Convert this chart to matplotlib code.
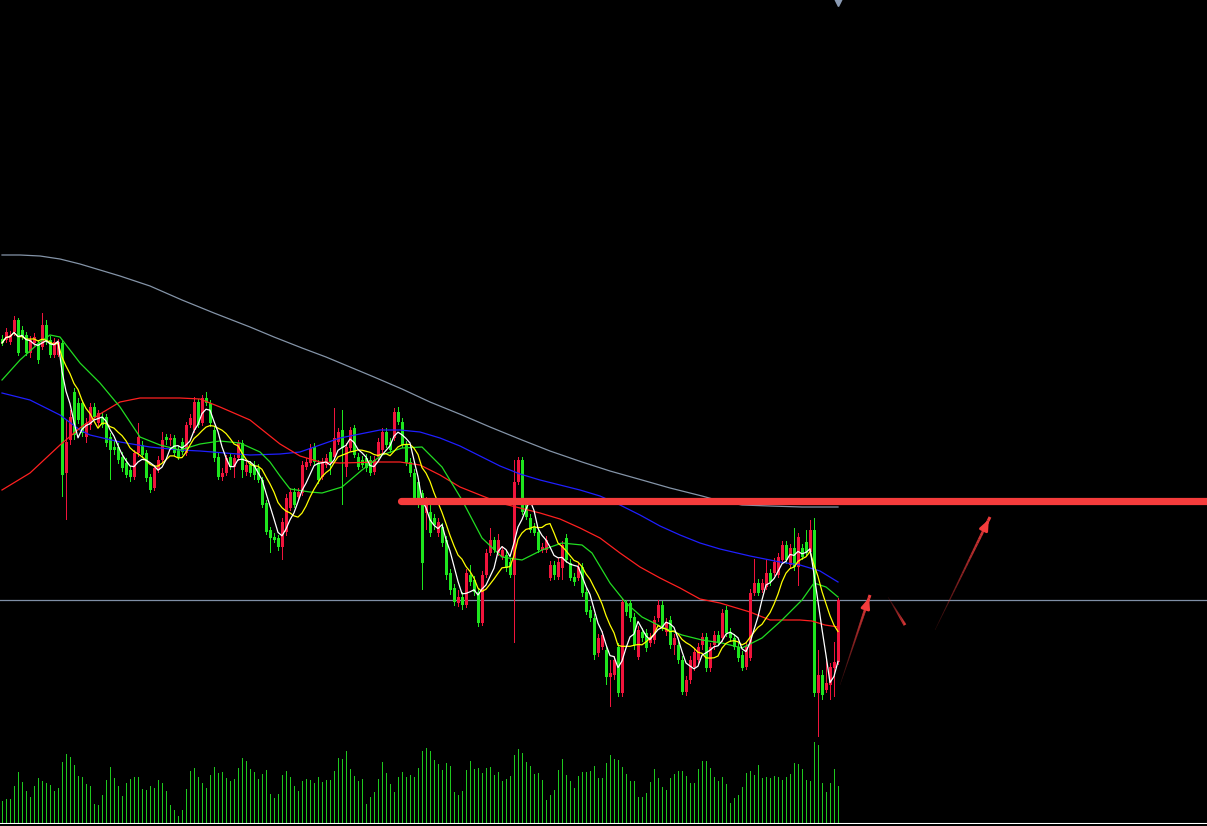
import numpy as np
import pandas as pd
import matplotlib
matplotlib.use('Agg')
import matplotlib.pyplot as plt
from matplotlib.collections import LineCollection

# daily bars (price units)
opens = [6.61, 6.60, 6.58, 6.68, 6.80, 6.70, 6.65, 6.47, 6.57, 6.57,
         6.53, 6.75, 6.60, 6.45, 6.45, 6.57, 5.27, 5.60, 6.08, 5.97,
         5.97, 5.63, 5.75, 5.93, 5.77, 5.83, 5.83, 5.63, 5.53, 5.53,
         5.43, 5.37, 5.30, 5.23, 5.47, 5.55, 5.47, 5.23, 5.12, 5.30,
         5.40, 5.63, 5.60, 5.62, 5.50, 5.58, 5.47, 5.75, 5.70, 5.98,
         5.77, 6.02, 5.97, 5.70, 5.43, 5.23, 5.27, 5.43, 5.33, 5.42,
         5.57, 5.28, 5.35, 5.35, 5.32, 5.20, 4.97, 4.70, 4.63, 4.62,
         4.53, 4.68, 4.92, 5.08, 5.03, 5.07, 5.33, 5.37, 5.53, 5.37,
         5.23, 5.35, 5.48, 5.43, 5.58, 5.70, 5.33, 5.52, 5.72, 5.43,
         5.40, 5.42, 5.40, 5.28, 5.43, 5.50, 5.68, 5.58, 5.62, 5.88,
         5.78, 5.55, 5.38, 5.27, 5.18, 5.07, 4.87, 4.88, 4.82, 4.67,
         4.73, 4.60, 4.27, 4.12, 3.97, 4.03, 3.95, 4.25, 4.20, 4.08,
         3.77, 4.25, 4.47, 4.60, 4.47, 4.43, 4.45, 4.38, 4.25, 5.18,
         5.40, 4.97, 4.82, 4.73, 4.68, 4.50, 4.50, 4.22, 4.35, 4.23,
         4.32, 4.62, 4.37, 4.23, 4.22, 4.33, 4.08, 3.90, 3.82, 3.47,
         3.53, 3.50, 3.23, 3.25, 3.53, 3.07, 3.97, 3.97, 3.83, 3.43,
         3.68, 3.67, 3.57, 3.60, 3.82, 3.95, 3.68, 3.80, 3.55, 3.55,
         3.40, 3.08, 3.20, 3.33, 3.40, 3.55, 3.63, 3.32, 3.55, 3.65,
         3.62, 3.90, 3.68, 3.62, 3.53, 3.45, 3.33, 3.42, 4.07, 4.17,
         4.10, 4.13, 4.27, 4.27, 4.25, 4.40, 4.55, 4.35, 4.52, 4.33,
         4.52, 4.58, 4.48, 4.70, 3.07, 3.25, 3.10, 3.15, 3.32, 3.38]
closes = [6.57, 6.68, 6.65, 6.80, 6.47, 6.63, 6.47, 6.60, 6.63, 6.40,
          6.75, 6.58, 6.45, 6.58, 6.58, 5.25, 5.58, 5.83, 5.65, 5.80,
          5.67, 5.77, 5.93, 5.83, 5.87, 5.75, 5.57, 5.50, 5.50, 5.40,
          5.32, 5.25, 5.23, 5.47, 5.63, 5.45, 5.22, 5.10, 5.32, 5.40,
          5.60, 5.60, 5.62, 5.47, 5.43, 5.48, 5.75, 5.82, 5.98, 5.75,
          6.02, 5.97, 5.77, 5.42, 5.23, 5.27, 5.42, 5.33, 5.42, 5.57,
          5.30, 5.35, 5.27, 5.25, 5.20, 4.95, 4.68, 4.62, 4.60, 4.53,
          4.78, 5.02, 5.08, 4.95, 5.08, 5.35, 5.38, 5.52, 5.38, 5.20,
          5.38, 5.42, 5.38, 5.62, 5.68, 5.52, 5.53, 5.70, 5.45, 5.33,
          5.35, 5.32, 5.27, 5.40, 5.58, 5.68, 5.55, 5.50, 5.88, 5.78,
          5.55, 5.37, 5.27, 5.02, 4.95, 4.37, 5.00, 4.67, 4.75, 4.78,
          4.57, 4.25, 4.10, 3.98, 4.03, 3.95, 4.27, 4.18, 4.08, 3.77,
          4.25, 4.47, 4.60, 4.50, 4.60, 4.50, 4.32, 4.25, 5.18, 5.40,
          4.88, 4.83, 4.70, 4.67, 4.50, 4.53, 4.60, 4.35, 4.25, 4.38,
          4.55, 4.40, 4.22, 4.18, 4.33, 4.07, 3.88, 3.82, 3.45, 3.62,
          3.65, 3.23, 3.27, 3.40, 3.07, 3.98, 3.88, 3.82, 3.55, 3.70,
          3.62, 3.52, 3.63, 3.80, 3.95, 3.73, 3.78, 3.55, 3.62, 3.40,
          3.08, 3.20, 3.40, 3.48, 3.53, 3.63, 3.32, 3.53, 3.65, 3.58,
          3.87, 3.67, 3.62, 3.53, 3.42, 3.32, 3.53, 4.07, 4.17, 4.07,
          4.17, 4.27, 4.18, 4.38, 4.43, 4.55, 4.40, 4.52, 4.33, 4.63,
          4.43, 4.47, 4.70, 3.07, 3.25, 3.05, 3.17, 3.33, 3.38, 4.00]
highs = [6.65, 6.72, 6.69, 6.84, 6.82, 6.74, 6.68, 6.64, 6.67, 6.60,
         6.87, 6.80, 6.64, 6.62, 6.61, 6.60, 5.80, 5.90, 6.12, 6.02,
         6.00, 5.82, 5.97, 5.97, 5.90, 5.87, 5.86, 5.67, 5.60, 5.57,
         5.48, 5.42, 5.34, 5.50, 5.77, 5.59, 5.50, 5.26, 5.35, 5.44,
         5.68, 5.66, 5.66, 5.65, 5.54, 5.62, 5.78, 5.86, 6.03, 6.01,
         6.05, 6.08, 6.00, 5.74, 5.47, 5.32, 5.45, 5.47, 5.45, 5.60,
         5.60, 5.39, 5.39, 5.39, 5.36, 5.23, 5.00, 4.73, 4.67, 4.65,
         4.82, 5.06, 5.12, 5.12, 5.12, 5.39, 5.42, 5.56, 5.57, 5.40,
         5.42, 5.46, 5.52, 5.92, 5.72, 5.90, 5.57, 5.73, 5.75, 5.47,
         5.44, 5.46, 5.44, 5.44, 5.62, 5.72, 5.72, 5.62, 5.92, 5.93,
         5.82, 5.59, 5.42, 5.31, 5.22, 5.10, 5.03, 4.95, 4.86, 4.82,
         4.77, 4.64, 4.31, 4.16, 4.10, 4.08, 4.31, 4.35, 4.24, 4.12,
         4.29, 4.51, 4.72, 4.63, 4.66, 4.54, 4.49, 4.42, 5.40, 5.43,
         5.43, 5.01, 4.86, 4.77, 4.72, 4.57, 4.64, 4.39, 4.39, 4.42,
         4.59, 4.66, 4.41, 4.27, 4.37, 4.37, 4.12, 3.94, 3.86, 3.66,
         3.69, 3.54, 3.40, 3.44, 3.57, 4.02, 4.00, 4.00, 3.87, 3.74,
         3.72, 3.71, 3.67, 3.84, 4.00, 3.99, 3.82, 3.84, 3.66, 3.59,
         3.44, 3.24, 3.44, 3.52, 3.57, 3.67, 3.67, 3.57, 3.69, 3.69,
         3.91, 3.94, 3.72, 3.66, 3.57, 3.49, 3.57, 4.11, 4.41, 4.21,
         4.21, 4.40, 4.31, 4.42, 4.47, 4.59, 4.59, 4.56, 4.72, 4.67,
         4.56, 4.70, 4.80, 4.82, 3.50, 3.30, 3.40, 3.37, 3.58, 4.02]
lows = [6.54, 6.57, 6.55, 6.64, 6.44, 6.60, 6.44, 6.42, 6.54, 6.36,
        6.50, 6.55, 6.42, 6.42, 6.43, 5.03, 4.80, 5.55, 5.60, 5.76,
        5.63, 5.57, 5.70, 5.80, 5.73, 5.72, 5.53, 5.20, 5.45, 5.36,
        5.28, 5.22, 5.18, 5.20, 5.43, 5.42, 5.18, 5.07, 5.09, 5.27,
        5.37, 5.55, 5.54, 5.44, 5.40, 5.45, 5.44, 5.72, 5.67, 5.72,
        5.74, 5.94, 5.73, 5.38, 5.20, 5.19, 5.24, 5.30, 5.22, 5.39,
        5.22, 5.24, 5.23, 5.20, 5.17, 4.92, 4.65, 4.47, 4.57, 4.49,
        4.40, 4.64, 4.89, 4.92, 5.00, 5.04, 5.30, 5.34, 5.35, 5.16,
        5.20, 5.32, 5.25, 5.40, 5.55, 4.95, 5.23, 5.49, 5.42, 5.30,
        5.32, 5.28, 5.24, 5.25, 5.40, 5.47, 5.52, 5.47, 5.59, 5.75,
        5.52, 5.34, 5.23, 4.98, 4.92, 4.10, 4.70, 4.63, 4.70, 4.63,
        4.53, 4.20, 4.05, 3.94, 3.93, 3.90, 3.92, 4.14, 4.04, 3.73,
        3.74, 4.22, 4.44, 4.47, 4.44, 4.40, 4.28, 4.22, 3.57, 5.15,
        4.85, 4.80, 4.67, 4.64, 4.47, 4.47, 4.47, 4.19, 4.20, 4.20,
        4.20, 4.37, 4.19, 4.14, 4.19, 4.03, 3.85, 3.78, 3.40, 3.43,
        3.50, 3.15, 2.93, 3.20, 3.03, 3.03, 3.84, 3.78, 3.50, 3.40,
        3.58, 3.48, 3.53, 3.56, 3.78, 3.69, 3.64, 3.51, 3.45, 3.36,
        3.05, 3.04, 3.16, 3.29, 3.36, 3.50, 3.28, 3.28, 3.50, 3.54,
        3.58, 3.63, 3.58, 3.50, 3.38, 3.29, 3.30, 3.39, 4.04, 4.04,
        4.07, 4.10, 4.14, 4.24, 4.22, 4.37, 4.36, 4.32, 4.29, 4.14,
        4.40, 4.44, 4.45, 3.03, 2.63, 3.00, 3.07, 3.00, 3.03, 3.35]
volume = [68, 76, 76, 115, 157, 127, 100, 82, 115, 139,
          130, 124, 118, 100, 109, 187, 211, 202, 178, 145,
          142, 121, 115, 61, 58, 88, 133, 172, 139, 115,
          85, 124, 136, 142, 142, 106, 103, 115, 109, 133,
          124, 100, 58, 43, 25, 43, 106, 160, 169, 142,
          124, 109, 148, 172, 154, 157, 139, 130, 136, 169,
          199, 190, 166, 157, 136, 151, 163, 91, 79, 91,
          148, 160, 142, 115, 100, 130, 136, 133, 124, 142,
          127, 133, 133, 160, 199, 196, 220, 166, 145, 130,
          136, 61, 82, 97, 136, 187, 154, 121, 97, 142,
          157, 142, 148, 142, 169,
          220, 229, 220, 193, 181, 163, 184, 175, 97, 88,
          100, 163, 190, 166, 169, 154, 169, 172, 148, 157,
          130, 136, 145, 208, 226, 214, 187, 175, 151, 154,
          133, 73, 88, 103, 163, 196, 148, 130, 109, 145,
          157, 157, 160, 175, 139, 139, 184, 208, 196, 193,
          172, 151, 130, 130, 82, 82, 94, 127, 166, 139,
          112, 103, 139, 151, 160, 160, 145, 124, 124, 166,
          190, 190, 169, 142, 130, 142, 121, 64, 79, 88,
          112, 154, 160, 148, 178, 139, 142, 139, 145, 142,
          133, 142, 151, 184, 181, 166, 133, 130, 247, 238,
          124, 97, 124, 166, 115]

# longer moving averages at bar positions
ma20_idx = [0, 4.5, 9.5, 12, 14.5, 17, 19.5, 24.5, 29.5, 34.5,
            39.5, 44.5, 49.5, 54.5, 59.5, 64.5, 67, 69.5, 72, 77,
            80, 85, 90, 95, 100, 105, 110, 115, 120, 125,
            130, 135, 140, 145, 147.5, 152, 156, 160, 165, 170,
            175, 180, 185, 190, 195, 200, 203, 206, 209]
ma20_val = [6.20, 6.40, 6.58, 6.65, 6.63, 6.50, 6.37, 6.17, 5.93, 5.63,
            5.55, 5.50, 5.56, 5.59, 5.57, 5.48, 5.38, 5.24, 5.11, 5.08,
            5.07, 5.13, 5.30, 5.45, 5.52, 5.53, 5.33, 5.00, 4.62, 4.43,
            4.40, 4.50, 4.57, 4.55, 4.47, 4.17, 3.97, 3.83, 3.73, 3.65,
            3.60, 3.57, 3.52, 3.62, 3.80, 4.00, 4.17, 4.13, 4.03]
ma60_idx = [0, 7, 14.5, 19.5, 24.5, 29.5, 34.5, 44.5, 49.5, 54.5,
            62, 64.5, 69.5, 74.5, 79.5, 84.5, 94.5, 99.5, 104.5, 109.5,
            114.5, 119.5, 124.5, 129.5, 134.5, 139.5, 144.5, 149.5, 154.5, 159.5,
            164.5, 169.5, 174.5, 179.5, 187, 192, 199.5, 202.5, 205.75, 209]
ma60_val = [5.10, 5.27, 5.55, 5.72, 5.86, 5.98, 6.02, 6.02, 6.01, 5.93,
            5.80, 5.72, 5.56, 5.44, 5.38, 5.37, 5.38, 5.38, 5.35, 5.25,
            5.13, 5.05, 4.97, 4.92, 4.87, 4.81, 4.72, 4.62, 4.47, 4.33,
            4.22, 4.12, 4.01, 3.97, 3.88, 3.80, 3.80, 3.79, 3.75, 3.73]
ma120_idx = [0, 7, 14.5, 19.5, 22, 29.5, 37, 44.5, 49.5, 62,
             69.5, 74.5, 84.5, 94.5, 99.5, 104.5, 109.5, 114.5, 119.5, 124.5,
             129.5, 134.5, 139.5, 144.5, 149.5, 154.5, 159.5, 164.5, 169.5, 174.5,
             179.5, 187, 194.5, 199.5, 204.5, 209]
ma120_val = [6.07, 6.00, 5.85, 5.70, 5.65, 5.58, 5.53, 5.50, 5.49, 5.45,
             5.46, 5.48, 5.62, 5.70, 5.70, 5.68, 5.62, 5.54, 5.44, 5.34,
             5.26, 5.20, 5.15, 5.10, 5.04, 4.95, 4.85, 4.74, 4.65, 4.57,
             4.51, 4.44, 4.38, 4.35, 4.29, 4.18]
ma250_idx = [0, 4.5, 9.5, 14.5, 19.5, 24.5, 29.5, 37, 45, 53,
             62, 68, 75, 81, 87, 93, 100, 107, 115, 122,
             130, 137, 145, 152, 160, 167, 175, 179.5, 185, 192,
             200, 209]
ma250_val = [7.45, 7.45, 7.44, 7.41, 7.36, 7.30, 7.24, 7.14, 7.00, 6.87,
             6.73, 6.63, 6.52, 6.43, 6.33, 6.23, 6.11, 5.98, 5.85, 5.73,
             5.60, 5.49, 5.38, 5.29, 5.20, 5.12, 5.04, 4.99, 4.95, 4.94,
             4.93, 4.93]

resistance = 4.99       # thick red line
ref_level = 4.00        # thin grey line

UP = '#f0143c'
DOWN = '#1ee61e'

df = pd.DataFrame({'open': opens, 'close': closes, 'high': highs, 'low': lows, 'vol': volume})
df['ma5'] = df['close'].rolling(5, min_periods=1).mean()
df['ma10'] = df['close'].rolling(10, min_periods=1).mean()
x = np.arange(len(df))
up = df['close'] >= df['open']
colors = np.where(up, UP, DOWN)

W, H = 1207, 826
fig = plt.figure(figsize=(W / 100, H / 100), dpi=100, facecolor='black')
xlim = (-0.5, (W - 2) / 4)

# volume pane
axv = fig.add_axes([0, 2 / H, 1, 90 / H])
axv.set_facecolor('none')
axv.bar(x, df['vol'], width=0.25, color='#1ec81e', linewidth=0, antialiased=False)
axv.axhline(0, color='white', lw=1.5)
axv.set_xlim(xlim)
axv.set_ylim(0, 270)
axv.set_axis_off()

# price pane
ax = fig.add_axes([0, 0, 1, 1])
ax.set_facecolor('none')
ax.set_xlim(xlim)
ax.set_ylim((1000 - H) / 100, 10.0)
ax.set_axis_off()

ax.axhline(ref_level, color='#7f8fa6', lw=0.9, zorder=1)

ax.bar(x, df['high'] - df['low'], bottom=df['low'], width=0.25, color=colors,
       linewidth=0, antialiased=False, zorder=2)
body_lo = np.minimum(df['open'], df['close'])
body_h = np.maximum(np.abs(df['close'] - df['open']), 0.02)
ax.bar(x, body_h, bottom=body_lo, width=0.75, color=colors, linewidth=0,
       antialiased=False, zorder=3)

ax.plot(ma250_idx, ma250_val, color='#8494a8', lw=0.9, zorder=4)
ax.plot(ma120_idx, ma120_val, color='#1f1fff', lw=0.9, zorder=4)
ax.plot(ma60_idx, ma60_val, color='#ff2020', lw=0.9, zorder=4)
ax.plot(ma20_idx, ma20_val, color='#22dd22', lw=0.9, zorder=4)
ax.plot(x, df['ma10'], color='#ffff00', lw=0.9, zorder=5)
ax.plot(x, df['ma5'], color='white', lw=0.9, zorder=6)

ax.plot([99.75, xlim[1] + 2], [resistance, resistance], color='#f53c3c', lw=5.2,
        solid_capstyle='round', zorder=8)


def fade_arrow(x0, y0, x1, y1, head=True, n=30):
    t = np.linspace(0, 1, n + 1)
    xs = x0 + (x1 - x0) * t
    ys = y0 + (y1 - y0) * t
    segs = [[(xs[k], ys[k]), (xs[k + 1], ys[k + 1])] for k in range(n)]
    cols = [(0.96, 0.24, 0.24, 0.15 + 0.85 * k / n) for k in range(n)]
    widths = [0.4 + 1.8 * k / n for k in range(n)]
    ax.add_collection(LineCollection(segs, colors=cols, linewidths=widths, zorder=9))
    if head:
        ax.annotate('', xy=(x1, y1), xytext=(x1 - (x1 - x0) * 0.12, y1 - (y1 - y0) * 0.12),
                    arrowprops=dict(arrowstyle='-|>,head_length=0.6,head_width=0.25',
                                    color='#f53c3c', lw=2.0), zorder=9)


fade_arrow(209.5, 3.15, 217.0, 4.05)
fade_arrow(221.5, 4.03, 225.75, 3.75, head=False)
fade_arrow(233.25, 3.70, 247.0, 4.83)

ax.plot([209], [9.98], marker='v', color='#8b9bb4', markersize=6, zorder=10)

fig.savefig('out.png', dpi=100, facecolor='black')
